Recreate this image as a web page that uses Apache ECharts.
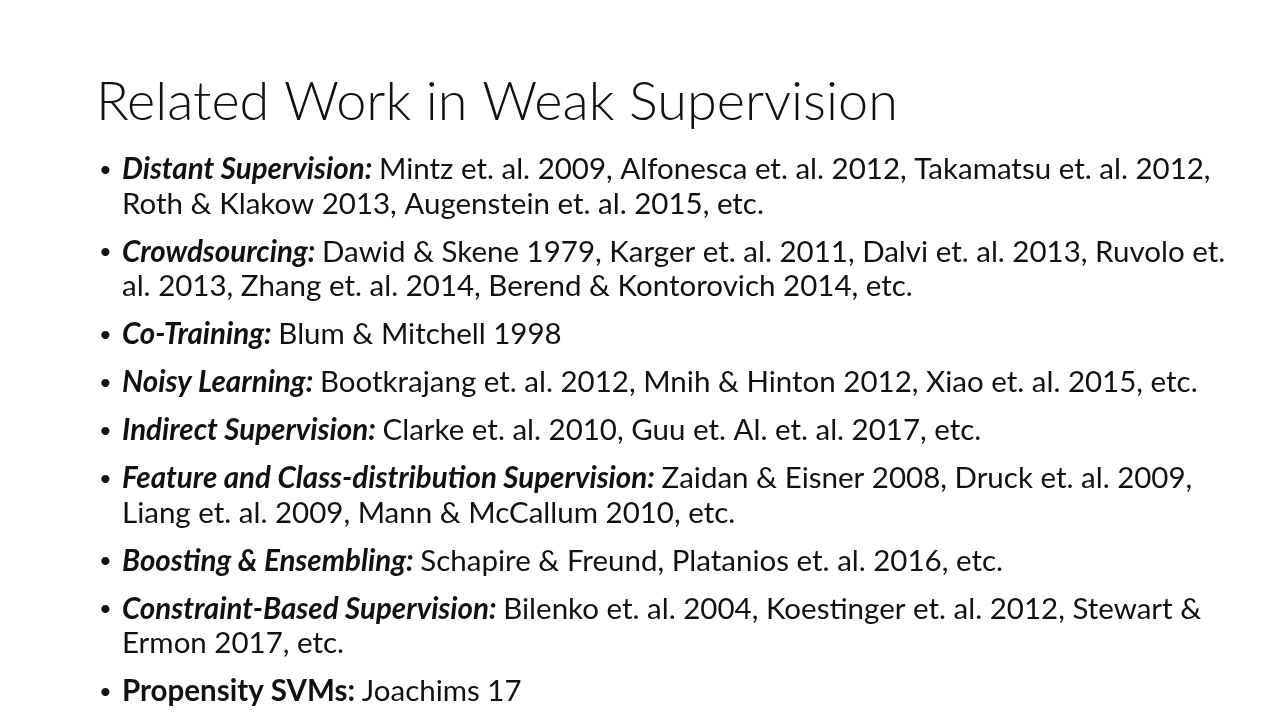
<!DOCTYPE html>
<html>
<head>
<meta charset="utf-8">
<script src="https://cdn.jsdelivr.net/npm/echarts@6/dist/echarts.min.js"></script>
<style>
  html, body { margin: 0; padding: 0; background: #fff; }
  #main { width: 1280px; height: 720px; }
</style>
</head>
<body>
<div id="main"></div>
<script>
const title = "Related Work in Weak Supervision";

// bullet headings, whether they are italic, and their body lines (wrapped as on the slide)
const headings = [
  "Distant Supervision:",
  "Crowdsourcing:",
  "Co-Training:",
  "Noisy Learning:",
  "Indirect Supervision:",
  "Feature and Class-distribution Supervision:",
  "Boosting & Ensembling:",
  "Constraint-Based Supervision:",
  "Propensity SVMs:"
];
const italicHeads = [true, true, true, true, true, true, true, true, false];
const firstLines = [
  "Mintz et. al. 2009, Alfonesca et. al. 2012, Takamatsu et. al. 2012,",
  "Dawid & Skene 1979, Karger et. al. 2011, Dalvi et. al. 2013, Ruvolo et.",
  "Blum & Mitchell 1998",
  "Bootkrajang et. al. 2012, Mnih & Hinton 2012, Xiao et. al. 2015, etc.",
  "Clarke et. al. 2010, Guu et. Al. et. al. 2017, etc.",
  "Zaidan & Eisner 2008, Druck et. al. 2009,",
  "Schapire & Freund, Platanios et. al. 2016, etc.",
  "Bilenko et. al. 2004, Koestinger et. al. 2012, Stewart &",
  "Joachims 17"
];
const nextLines = [
  "Roth & Klakow 2013, Augenstein et. al. 2015, etc.",
  "al. 2013, Zhang et. al. 2014, Berend & Kontorovich 2014, etc.",
  "",
  "",
  "",
  "Liang et. al. 2009, Mann & McCallum 2010, etc.",
  "",
  "Ermon 2017, etc.",
  ""
];

const FONT = "Lato, 'Open Sans', sans-serif";
const BODY_SIZE = 29.5;
const INK = "#111";

const chart = echarts.init(document.getElementById("main"));
const elements = [];

elements.push({
  type: "text",
  left: 96, top: 76,
  style: { text: title, fontFamily: FONT, fontWeight: 300, fontSize: 54, fill: INK }
});

let y = 169.5;
headings.forEach((h, i) => {
  elements.push({
    type: "text",
    x: 99, y: y,
    style: { text: "\u2022", fontFamily: FONT, fontSize: 22, fill: INK, verticalAlign: "middle" }
  });
  elements.push({
    type: "text",
    x: 122, y: y,
    style: {
      text: "{h|" + h + "}  {n|" + firstLines[i] + "}",
      verticalAlign: "middle",
      rich: {
        h: { fontFamily: FONT, fontSize: BODY_SIZE, fontWeight: "bold",
             fontStyle: italicHeads[i] ? "italic" : "normal", fill: INK },
        n: { fontFamily: FONT, fontSize: BODY_SIZE, fill: INK }
      }
    }
  });
  if (nextLines[i]) {
    y += 34.5;
    elements.push({
      type: "text",
      x: 122, y: y,
      style: { text: nextLines[i], fontFamily: FONT, fontSize: BODY_SIZE, fill: INK, verticalAlign: "middle" }
    });
  }
  y += 48;
});

chart.setOption({
  backgroundColor: "#fff",
  animation: false,
  graphic: { elements: elements }
});
</script>
</body>
</html>
